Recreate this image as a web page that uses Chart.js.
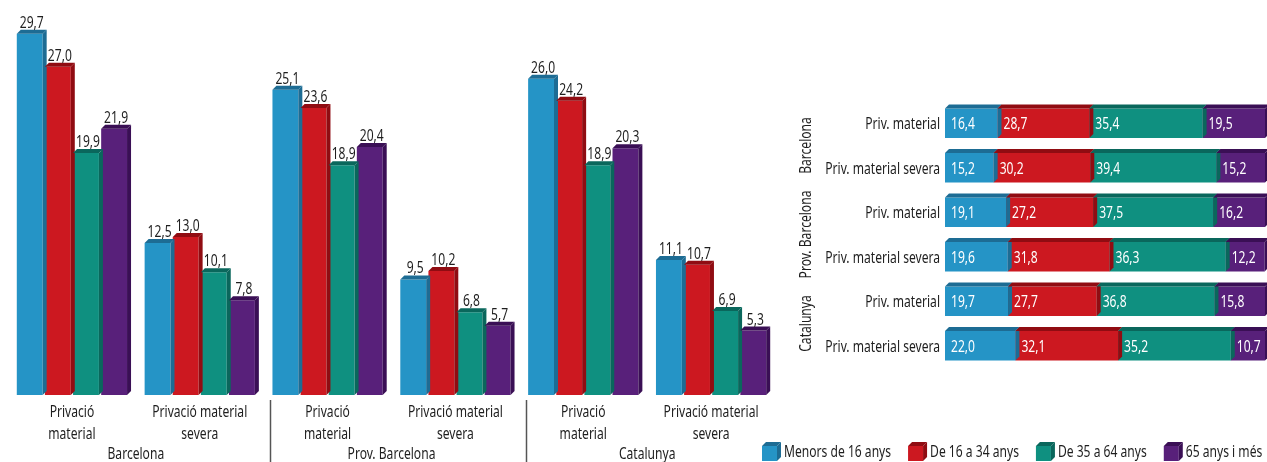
<!DOCTYPE html>
<html>
<head>
<meta charset="utf-8">
<script src="https://cdn.jsdelivr.net/npm/chart.js@4.4.1/dist/chart.umd.min.js"></script>
<style>
  html, body { margin: 0; padding: 0; background: #fff; }
  #wrap { position: relative; width: 1267px; height: 462px; overflow: hidden; }
  #left { position: absolute; left: 0; top: 0; }
  #right { position: absolute; left: 750px; top: 0; }
</style>
</head>
<body>
<div id="wrap">
  <canvas id="left" width="780" height="462"></canvas>
  <canvas id="right" width="517" height="462"></canvas>
</div>
<script>
const FONT = '"Noto Sans", "DejaVu Sans", sans-serif';
const FSIZE = 17;

// left chart
const regions = ['Barcelona', 'Prov. Barcelona', 'Catalunya'];
const barLabels = [
    ['Privació', 'material'], ['Privació material', 'severa'],
    ['Privació', 'material'], ['Privació material', 'severa'],
    ['Privació', 'material'], ['Privació material', 'severa']
];
const seriesNames = ['Menors de 16 anys', 'De 16 a 34 anys', 'De 35 a 64 anys', '65 anys i més'];
const menors16 = [29.7, 12.5, 25.1, 9.5, 26.0, 11.1];
const de16a34 = [27.0, 13.0, 23.6, 10.2, 24.2, 10.7];
const de35a64 = [19.9, 10.1, 18.9, 6.8, 18.9, 6.9];
const de65 = [21.9, 7.8, 20.4, 5.7, 20.3, 5.3];

// right chart (distribució %)
const rowLabels = ['Priv. material', 'Priv. material severa', 'Priv. material',
    'Priv. material severa', 'Priv. material', 'Priv. material severa'];
const distMenors16 = [16.4, 15.2, 19.1, 19.6, 19.7, 22.0];
const dist16a34 = [28.7, 30.2, 27.2, 31.8, 27.7, 32.1];
const dist35a64 = [35.4, 39.4, 37.5, 36.3, 36.8, 35.2];
const dist65 = [19.5, 15.2, 16.2, 12.2, 15.8, 10.7];

const colors = ['#2594c6', '#cc1820', '#0f9080', '#58207a'];
const darkColors = ['#1d6c94', '#900c12', '#0a675c', '#3a0f55'];

const fmt = v => v.toFixed(1).replace('.', ',');
const DEPTH = 4;

// the original uses a condensed face, so squeeze a normal one
const probe = document.createElement('canvas').getContext('2d');
probe.font = FSIZE + 'px ' + FONT;
const SX = 95 / probe.measureText('Privació material').width;

function text(ctx, s, x, y, align, color) {
    ctx.save();
    ctx.font = FSIZE + 'px ' + FONT;
    ctx.fillStyle = color || '#1e1e1e';
    ctx.textAlign = align;
    ctx.textBaseline = 'alphabetic';
    ctx.translate(x, y);
    ctx.scale(SX, 1);
    ctx.fillText(s, 0, 0);
    ctx.restore();
}

function textWidth(ctx, s) {
    ctx.save();
    ctx.font = FSIZE + 'px ' + FONT;
    const w = ctx.measureText(s).width * SX;
    ctx.restore();
    return w;
}

function drawFaces(ctx, l, r, t, b, dark) {
    ctx.fillStyle = dark;
    ctx.beginPath();
    ctx.moveTo(l, t);
    ctx.lineTo(l + DEPTH, t - DEPTH);
    ctx.lineTo(r + DEPTH, t - DEPTH);
    ctx.lineTo(r, t);
    ctx.closePath();
    ctx.fill();
    ctx.beginPath();
    ctx.moveTo(r, t);
    ctx.lineTo(r + DEPTH, t - DEPTH);
    ctx.lineTo(r + DEPTH, b - DEPTH);
    ctx.lineTo(r, b);
    ctx.closePath();
    ctx.fill();
}

const leftPlugin = {
    id: 'leftDecor',
    afterDatasetsDraw(chart) {
        const ctx = chart.ctx;
        chart.data.datasets.forEach((ds, i) => {
            const meta = chart.getDatasetMeta(i);
            meta.data.forEach((bar, j) => {
                const l = bar.x - bar.width / 2;
                const r = bar.x + bar.width / 2;
                drawFaces(ctx, l, r, bar.y, bar.base, darkColors[i]);
                text(ctx, fmt(ds.data[j]), bar.x + DEPTH / 2, bar.y - DEPTH - 2, 'center');
            });
        });
    },
    afterDraw(chart) {
        const ctx = chart.ctx;
        const x = chart.scales.x;
        const step = x.getPixelForValue(1) - x.getPixelForValue(0);
        chart.data.labels.forEach((lines, i) => {
            const px = x.getPixelForValue(i);
            lines.forEach((ln, k) => text(ctx, ln, px, 417 + k * 22, 'center'));
        });
        regions.forEach((name, k) => {
            const cx = (x.getPixelForValue(k * 2) + x.getPixelForValue(k * 2 + 1)) / 2;
            text(ctx, name, cx, 459, 'center');
            if (k > 0) {
                const sx = Math.round(x.getPixelForValue(k * 2) - step * 0.45) + 0.5;
                ctx.save();
                ctx.strokeStyle = '#555';
                ctx.lineWidth = 1.5;
                ctx.beginPath();
                ctx.moveTo(sx, 400);
                ctx.lineTo(sx, 462);
                ctx.stroke();
                ctx.restore();
            }
        });
    }
};

new Chart(document.getElementById('left'), {
    type: 'bar',
    data: {
        labels: barLabels,
        datasets: [menors16, de16a34, de35a64, de65].map((d, i) => ({
            label: seriesNames[i],
            data: d,
            backgroundColor: colors[i],
            categoryPercentage: 0.88,
            barPercentage: 0.92
        }))
    },
    options: {
        responsive: false,
        animation: false,
        layout: {padding: {left: 8, right: 5, top: 18, bottom: 67}},
        plugins: {legend: {display: false}, tooltip: {enabled: false}},
        scales: {
            y: {display: false, min: 0, max: 31},
            x: {display: false}
        }
    },
    plugins: [leftPlugin]
});

const rightPlugin = {
    id: 'rightDecor',
    afterDatasetsDraw(chart) {
        const ctx = chart.ctx;
        chart.data.datasets.forEach((ds, i) => {
            const meta = chart.getDatasetMeta(i);
            meta.data.forEach(bar => {
                const l = Math.min(bar.base, bar.x);
                const r = Math.max(bar.base, bar.x);
                drawFaces(ctx, l, r, bar.y - bar.height / 2, bar.y + bar.height / 2, darkColors[i]);
            });
        });
        chart.data.datasets.forEach((ds, i) => {
            const meta = chart.getDatasetMeta(i);
            meta.data.forEach((bar, j) => {
                text(ctx, fmt(ds.data[j]), Math.min(bar.base, bar.x) + 6, bar.y + 6, 'left', '#fff');
            });
        });
    },
    afterDraw(chart) {
        const ctx = chart.ctx;
        const y = chart.scales.y;
        chart.data.labels.forEach((lab, i) => {
            text(ctx, lab, chart.chartArea.left - 5, y.getPixelForValue(i) + 6, 'right');
        });
        regions.forEach((name, k) => {
            const cy = (y.getPixelForValue(k * 2) + y.getPixelForValue(k * 2 + 1)) / 2;
            ctx.save();
            ctx.translate(61, cy);
            ctx.rotate(-Math.PI / 2);
            text(ctx, name, 0, 0, 'center');
            ctx.restore();
        });
        // legend with little cubes
        let lx = 12;
        chart.data.datasets.forEach((ds, i) => {
            const s = 15;
            const top = 446;
            ctx.fillStyle = colors[i];
            ctx.fillRect(lx, top, s, s);
            drawFaces(ctx, lx, lx + s, top, top + s, darkColors[i]);
            text(ctx, ds.label, lx + s + DEPTH + 3, 457, 'left');
            lx += s + DEPTH + 3 + textWidth(ctx, ds.label) + 17;
        });
    }
};

new Chart(document.getElementById('right'), {
    type: 'bar',
    data: {
        labels: rowLabels,
        datasets: [distMenors16, dist16a34, dist35a64, dist65].map((d, i) => ({
            label: seriesNames[i],
            data: d,
            backgroundColor: colors[i],
            categoryPercentage: 0.66,
            barPercentage: 1
        }))
    },
    options: {
        indexAxis: 'y',
        responsive: false,
        animation: false,
        layout: {padding: {left: 195, right: 2, top: 101, bottom: 94}},
        plugins: {legend: {display: false}, tooltip: {enabled: false}},
        scales: {
            x: {display: false, stacked: true, min: 0, max: 100},
            y: {display: false, stacked: true}
        }
    },
    plugins: [rightPlugin]
});
</script>
</body>
</html>
